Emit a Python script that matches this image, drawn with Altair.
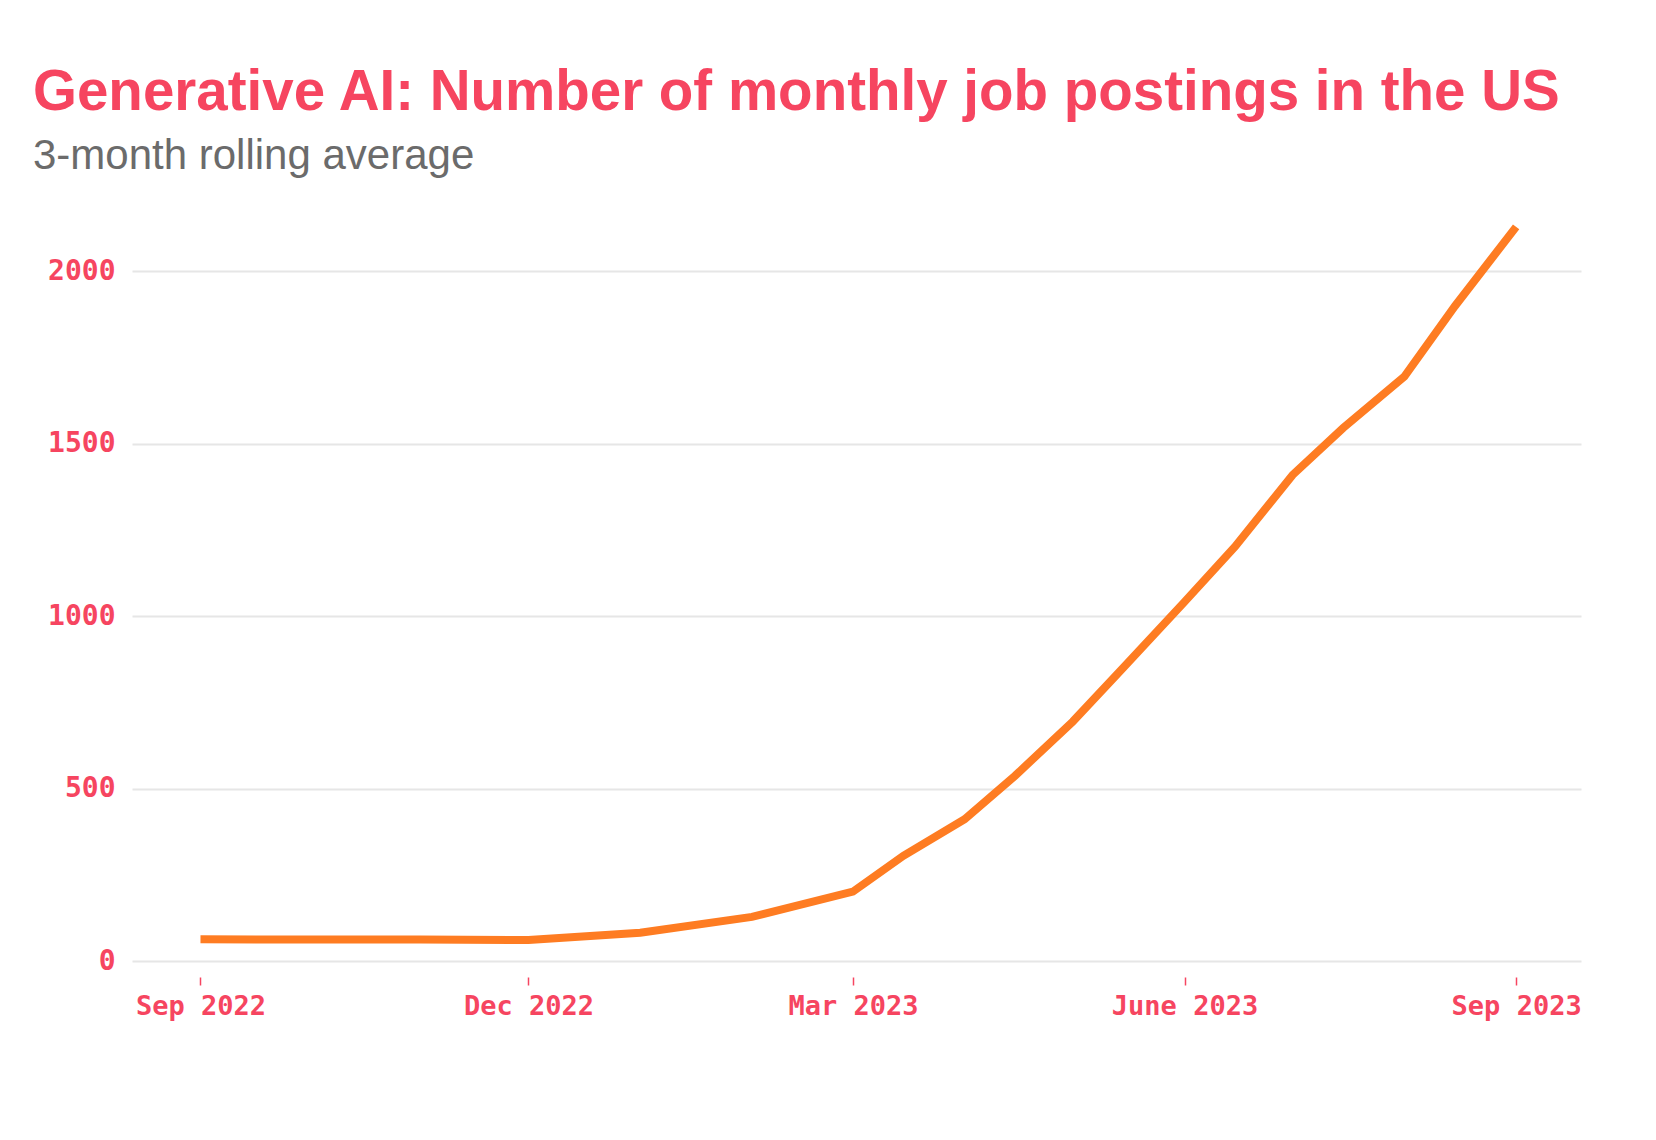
import altair as alt
import pandas as pd

# ---- data ----
dates = ["2022-09-01", "2022-10-01", "2022-11-01", "2022-12-01",
         "2023-01-01", "2023-02-01", "2023-03-01", "2023-03-15",
         "2023-04-01", "2023-04-15", "2023-05-01", "2023-05-15",
         "2023-06-01", "2023-06-15", "2023-07-01", "2023-07-15",
         "2023-08-01", "2023-08-15", "2023-09-01"]
postings = [63, 62, 62, 61,
            82, 128, 201, 305,
            411, 537, 694, 850,
            1041, 1201, 1409, 1545,
            1694, 1898, 2128]
y_ticks = [0, 500, 1000, 1500, 2000]

PINK = "#F64560"
ORANGE = "#FE7C22"
GRID = "#E6E6E6"
TICK_FONT = "DejaVu Sans Mono"

df = pd.DataFrame({"date": [d + "T00:00:00" for d in dates], "postings": postings})

x_ticks = [alt.DateTime(year=2022, month=9, date=1),
           alt.DateTime(year=2022, month=12, date=1),
           alt.DateTime(year=2023, month=3, date=1),
           alt.DateTime(year=2023, month=6, date=1),
           alt.DateTime(year=2023, month=9, date=1)]

chart = alt.Chart(df).mark_line(color=ORANGE, strokeWidth=8).encode(
    x=alt.X("date:T",
            scale=alt.Scale(domain=[alt.DateTime(year=2022, month=8, date=13),
                                    alt.DateTime(year=2023, month=9, date=19)]),
            axis=alt.Axis(values=x_ticks, title=None, grid=False, domain=False,
                          ticks=True, tickColor=PINK, tickSize=8, tickWidth=1.5,
                          offset=16, labelPadding=8, labelFlush=False,
                          labelFont=TICK_FONT, labelFontSize=27, labelFontWeight="bold",
                          labelColor=PINK, labelAlign="center", labelBaseline="top",
                          labelExpr="month(datum.value) == 5 ? 'June ' + year(datum.value) : timeFormat(datum.value, '%b %Y')")),
    y=alt.Y("postings:Q",
            scale=alt.Scale(domain=[0, 2200], nice=False),
            axis=alt.Axis(values=y_ticks, title=None, domain=False, ticks=False,
                          format="d",
                          labelPadding=17, labelFont=TICK_FONT, labelFontSize=28,
                          labelFontWeight="bold", labelColor=PINK,
                          gridColor=GRID, gridWidth=2)),
).properties(
    width=1449,
    height=759,
    background="white",
    title=alt.TitleParams(
        text="Generative AI: Number of monthly job postings in the US",
        subtitle="3-month rolling average",
        anchor="start", frame="group",
        font="Liberation Sans", fontSize=56.5, fontWeight="bold", color=PINK,
        subtitleFont="Liberation Sans", subtitleFontSize=42, subtitleColor="#6B6B6B",
        subtitlePadding=15, offset=25, dx=-99),
    autosize=alt.AutoSizeParams(type="none"),
    padding={"left": 124, "top": 194, "right": 50, "bottom": 140},
).configure_view(strokeWidth=0, stroke=None)

chart.save("out.html", embed_options={"renderer": "svg", "actions": False})
